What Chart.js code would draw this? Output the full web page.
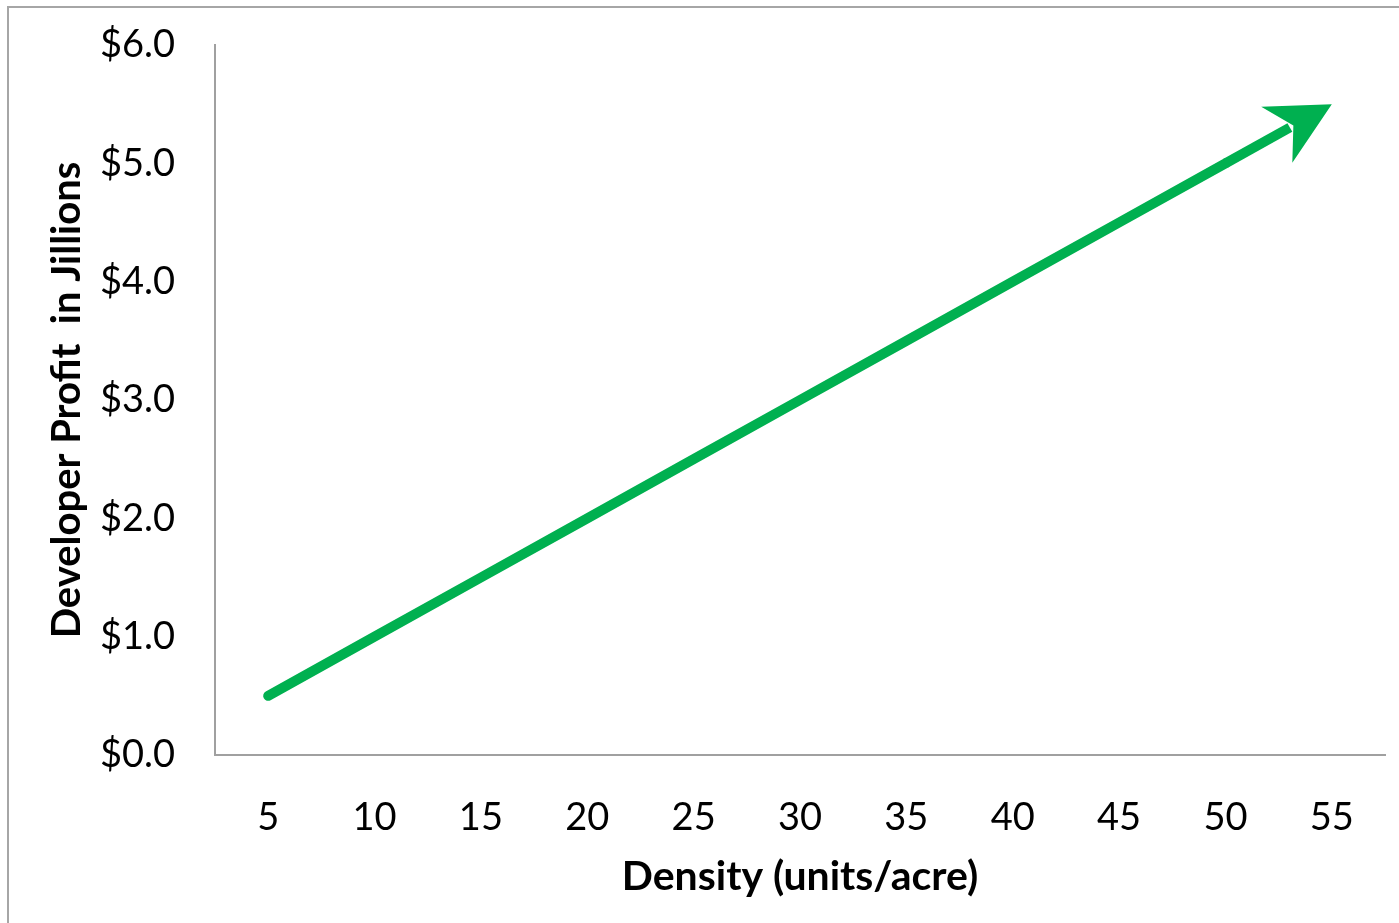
<!DOCTYPE html>
<html>
<head>
<meta charset="utf-8">
<script src="https://cdn.jsdelivr.net/npm/chart.js@4"></script>
<style>
  body { margin: 0; background: #fff; overflow: hidden; }
  #frame { position: absolute; left: 7px; top: 6px; width: 1500px; height: 1000px; border: 2px solid #a6a6a6; }
  #wrap { position: absolute; left: 0; top: 0; width: 1399px; height: 923px; }
</style>
</head>
<body>
<div id="frame"></div>
<div id="wrap"><canvas id="profitChart"></canvas></div>
<script>
// Developer profit vs density
const densities = ['5', '10', '15', '20', '25', '30', '35', '40', '45', '50', '55'];
const profits = [0.5, 1.0, 1.5, 2.0, 2.5, 3.0, 3.5, 4.0, 4.5, 5.0, 5.5];
const yTicks = [0, 1, 2, 3, 4, 5, 6];

const green = '#00b050';
const axisGrey = '#a0a0a0';

// draws the last segment as a shaft + arrowhead ending at the last point
const arrowHead = {
  id: 'arrowHead',
  afterDatasetsDraw(chart) {
    const pts = chart.getDatasetMeta(0).data;
    const a = pts[pts.length - 2], b = pts[pts.length - 1];
    const ang = Math.atan2(b.y - a.y, b.x - a.x);
    const len = 63, half = 32, notch = 44;
    const ux = Math.cos(ang), uy = Math.sin(ang);
    const nx = -uy, ny = ux;
    const ctx = chart.ctx;
    ctx.save();
    ctx.strokeStyle = green;
    ctx.lineWidth = 10;
    ctx.beginPath();
    ctx.moveTo(a.x, a.y);
    ctx.lineTo(b.x - ux * (notch + 4), b.y - uy * (notch + 4));
    ctx.stroke();
    ctx.fillStyle = green;
    ctx.beginPath();
    ctx.moveTo(b.x, b.y);
    ctx.lineTo(b.x - ux * len + nx * half, b.y - uy * len + ny * half);
    ctx.lineTo(b.x - ux * notch, b.y - uy * notch);
    ctx.lineTo(b.x - ux * len - nx * half, b.y - uy * len - ny * half);
    ctx.closePath();
    ctx.fill();
    ctx.restore();
  }
};

const ctx = document.getElementById('profitChart');
new Chart(ctx, {
  type: 'line',
  data: {
    labels: densities,
    datasets: [{
      data: profits,
      borderColor: green,
      borderWidth: 10,
      borderCapStyle: 'round',
      pointRadius: 0,
      tension: 0,
      segment: {
        borderColor: c => c.p1DataIndex === profits.length - 1 ? 'rgba(0,0,0,0)' : green
      }
    }]
  },
  plugins: [arrowHead],
  options: {
    responsive: true,
    maintainAspectRatio: false,
    animation: false,
    layout: { padding: { top: 45, right: 14, left: 0, bottom: 0 } },
    plugins: {
      legend: { display: false },
      tooltip: { enabled: false }
    },
    scales: {
      x: {
        offset: true,
        grid: { display: false, drawTicks: false },
        border: { display: true, color: axisGrey, width: 2 },
        ticks: { color: '#000', padding: 40, font: { family: 'Lato', size: 38 }, maxRotation: 0 },
        title: {
          display: true, text: 'Density (units/acre)', color: '#000',
          font: { family: 'Lato', size: 41, weight: 'bold' },
          padding: { bottom: 22 }
        },
        afterFit(s) { s.height = 168; s.paddingLeft = 0; s.paddingRight = 0; }
      },
      y: {
        min: 0,
        max: 6,
        afterBuildTicks(s) { s.ticks = yTicks.map(v => ({ value: v })); },
        grid: { display: false, drawTicks: false },
        border: { display: true, color: axisGrey, width: 2 },
        ticks: {
          color: '#000', padding: 40, font: { family: 'Lato', size: 38 },
          callback: v => '$' + v.toFixed(1)
        },
        title: {
          display: true, text: 'Developer Profit  in Jillions', color: '#000',
          font: { family: 'Lato', size: 40, weight: 'bold' },
          padding: { top: 43 }
        },
        afterFit(s) { s.width = 215; s.paddingTop = 0; s.paddingBottom = 0; }
      }
    }
  }
});
</script>
</body>
</html>
